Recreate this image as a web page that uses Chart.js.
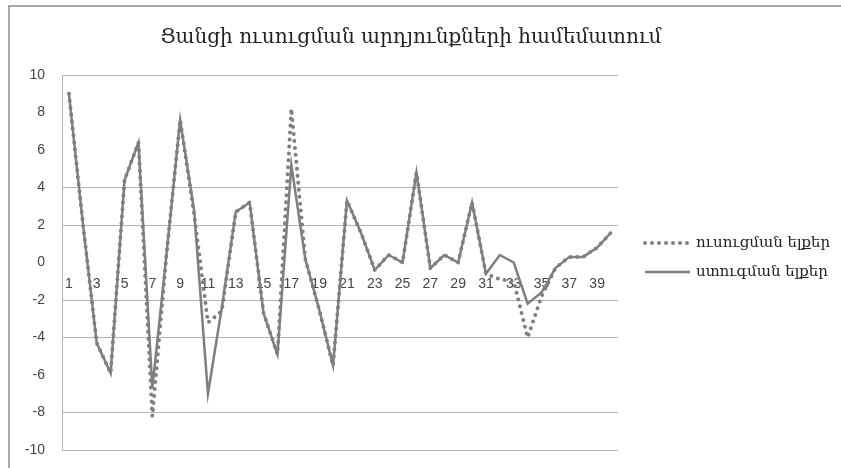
<!DOCTYPE html>
<html>
<head>
<meta charset="utf-8">
<script src="https://cdn.jsdelivr.net/npm/chart.js@4/dist/chart.umd.min.js"></script>
<style>
  html, body { margin: 0; padding: 0; background: #fff; }
  #wrap { position: relative; width: 841px; height: 468px; overflow: hidden; }
  #frame { position: absolute; left: 8px; top: 5px; width: 900px; height: 520px; border: 2px solid #a8a8a8; box-sizing: border-box; }
  #c { position: absolute; left: 0; top: 0; }
</style>
</head>
<body>
<div id="wrap">
  <div id="frame"></div>
  <canvas id="c" width="841" height="468"></canvas>
</div>
<script>
// Sample numbers along the horizontal axis
const categories = ['1','2','3','4','5','6','7','8','9','10',
  '11','12','13','14','15','16','17','18','19','20',
  '21','22','23','24','25','26','27','28','29','30',
  '31','32','33','34','35','36','37','38','39','40'];

// Network outputs on the training set
const trainingOutputs = [9.0, 2.1, -4.3, -5.9, 4.4, 6.4, -8.2, 0.3, 7.6, 2.6,
  -3.2, -2.6, 2.7, 3.2, -2.7, -4.9, 8.2, 0.2, -2.5, -5.5,
  3.3, 1.6, -0.4, 0.4, 0.0, 4.8, -0.3, 0.4, 0.0, 3.2,
  -0.6, -0.9, -1.0, -4.0, -1.8, -0.3, 0.3, 0.3, 0.8, 1.6];

// Network outputs on the test set
const testOutputs = [9.0, 2.1, -4.3, -5.9, 4.4, 6.4, -6.7, 0.3, 7.6, 2.8,
  -7.0, -2.4, 2.7, 3.2, -2.7, -4.9, 5.2, 0.2, -2.5, -5.5,
  3.3, 1.6, -0.4, 0.4, 0.0, 4.8, -0.3, 0.4, 0.0, 3.2,
  -0.6, 0.4, 0.0, -2.2, -1.6, -0.3, 0.3, 0.3, 0.8, 1.6];

// Value axis ticks
const yTickValues = [10, 8, 6, 4, 2, 0, -2, -4, -6, -8, -10];
// Tick levels drawn without a grid line
const bareTickValues = [8, 6, 0, -6];

const seriesNames = ['ուսուցման ելքեր', 'ստուգման ելքեր'];
const chartTitle = 'Ցանցի ուսուցման արդյունքների համեմատում';

const GRAY = '#7f7f7f';

// Legend drawn to the right of the plot
const sideLegend = {
  id: 'sideLegend',
  afterDraw(chart, args, opts) {
    const ctx = chart.ctx;
    ctx.save();
    chart.data.datasets.forEach((ds, i) => {
      const y = opts.rows[i];
      ctx.beginPath();
      ctx.strokeStyle = ds.borderColor;
      ctx.lineWidth = ds.borderWidth;
      ctx.lineCap = ds.borderCapStyle || 'butt';
      ctx.setLineDash(ds.borderDash || []);
      ctx.moveTo(opts.x0, y);
      ctx.lineTo(opts.x1, y);
      ctx.stroke();
      ctx.setLineDash([]);
      ctx.fillStyle = opts.color;
      ctx.font = opts.font;
      ctx.textAlign = 'left';
      ctx.textBaseline = 'middle';
      ctx.fillText(ds.label, opts.textX, y);
    });
    ctx.restore();
  }
};

new Chart(document.getElementById('c'), {
  type: 'line',
  data: {
    labels: categories,
    datasets: [
      {
        label: seriesNames[0],
        data: trainingOutputs,
        borderColor: GRAY,
        backgroundColor: GRAY,
        borderWidth: 4,
        borderDash: [0, 7],
        borderCapStyle: 'round',
        borderJoinStyle: 'round',
        pointRadius: 0,
        tension: 0,
        fill: false
      },
      {
        label: seriesNames[1],
        data: testOutputs,
        borderColor: GRAY,
        backgroundColor: GRAY,
        borderWidth: 2.5,
        borderJoinStyle: 'miter',
        pointRadius: 0,
        tension: 0,
        fill: false
      }
    ]
  },
  options: {
    responsive: false,
    animation: false,
    layout: { padding: { left: 9, right: 28, top: 0, bottom: 18 } },
    plugins: {
      legend: { display: false },
      tooltip: { enabled: false },
      title: {
        display: true,
        text: chartTitle,
        color: '#222',
        font: { family: "'DejaVu Serif', 'DejaVu Sans', serif", size: 20, weight: 'normal' },
        padding: { top: 26, bottom: 25 }
      },
      sideLegend: {
        rows: [243, 272],
        x0: 645,
        x1: 690,
        textX: 696,
        color: '#222',
        font: "15px 'DejaVu Serif', 'DejaVu Sans', serif"
      }
    },
    scales: {
      x: {
        type: 'category',
        position: { y: 0 },
        offset: true,
        afterFit: (scale) => { scale.height = 0; },
        grid: { display: false, drawTicks: false },
        border: { display: false },
        ticks: {
          autoSkip: false,
          maxRotation: 0,
          minRotation: 0,
          padding: 13,
          color: '#444',
          font: { family: "'Liberation Sans', Arial, sans-serif", size: 14 },
          callback: (value, index) => (index % 2 === 0 ? categories[index] : '')
        }
      },
      y: {
        min: -10,
        max: 10,
        afterBuildTicks: (scale) => { scale.ticks = yTickValues.map(v => ({ value: v })); },
        afterFit: (scale) => { scale.width = 53; },
        grid: {
          drawTicks: true,
          tickLength: 14,
          tickColor: 'rgba(0,0,0,0)',
          lineWidth: 1,
          color: (ctx) => (ctx.tick && bareTickValues.includes(ctx.tick.value) ? 'rgba(0,0,0,0)' : '#b4b4b4')
        },
        border: { display: true, color: '#b4b4b4', width: 1 },
        ticks: {
          padding: 3,
          color: '#444',
          font: { family: "'Liberation Sans', Arial, sans-serif", size: 14 }
        }
      },
      // Empty right-hand strip that holds the legend
      legendSpace: {
        type: 'linear',
        axis: 'y',
        position: 'right',
        min: -10,
        max: 10,
        grid: { display: false, drawTicks: false },
        border: { display: false },
        ticks: { display: false },
        afterFit: (scale) => { scale.width = 195; }
      }
    }
  },
  plugins: [sideLegend]
});
</script>
</body>
</html>
